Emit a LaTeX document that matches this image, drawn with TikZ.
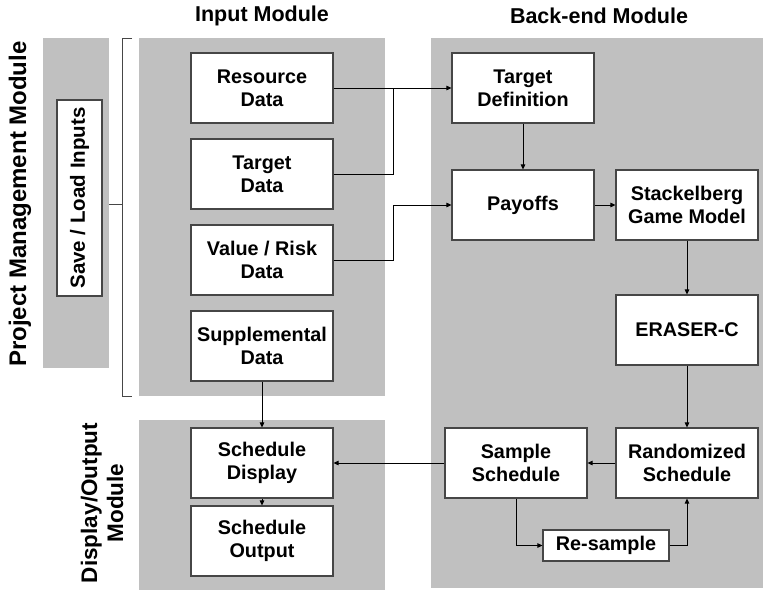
\documentclass[tikz,border=0pt]{standalone}
\usepackage{fontspec}
\setmainfont{Liberation Sans}
\usetikzlibrary{arrows.meta}
\definecolor{panelgray}{RGB}{192,192,192}
\definecolor{boxline}{RGB}{70,70,70}
\begin{document}
\begin{tikzpicture}[x=1pt,y=-1pt,
  panel/.style={fill=panelgray,draw=none,anchor=north west,inner sep=0pt},
  blk/.style={draw=boxline,line width=1.1pt,fill=white,minimum width=142pt,minimum height=70pt,inner sep=0pt,align=center,font=\fontsize{19.8}{23}\selectfont\bfseries},
  title/.style={font=\fontsize{21.5}{25}\selectfont\bfseries,inner sep=0pt},
  modlabel/.style={font=\fontsize{22.5}{26}\selectfont\bfseries,inner sep=0pt,align=center,rotate=90},
  conn/.style={draw=black,line width=0.8pt,-{Triangle[length=5pt,width=4.5pt]}},
  plain/.style={draw=black,line width=0.8pt},
  brk/.style={draw=boxline,line width=0.9pt}]
\useasboundingbox (0,0) rectangle (763,590);
% panels
\node[panel,minimum width=66pt,minimum height=330pt] (pm) at (43,38) {};
\node[panel,minimum width=246pt,minimum height=358pt] (inp) at (139,38) {};
\node[panel,minimum width=246pt,minimum height=170pt] (disp) at (139,420) {};
\node[panel,minimum width=332pt,minimum height=550pt] (back) at (431,38) {};
% titles
\node[title] (tin) at (262,16) {Input Module};
\node[title] (tback) at (599,16) {Back-end Module};
\node[modlabel,font=\fontsize{24}{28}\selectfont\bfseries] (pml) at (20,204) {Project Management Module};
\node[modlabel] (dol) at (102,503) {Display/Output\\Module};
% bracket
\coordinate (b1) at (132,38);
\coordinate (b2) at (122,38);
\coordinate (b3) at (122,396);
\coordinate (b4) at (132,396);
\coordinate (bm) at (122,204);
\draw[brk] (b1) -- (b2) -- (b3) -- (b4);
\draw[brk] (pm.east |- bm) -- (bm);
% boxes
\node[blk,minimum width=196pt,minimum height=45pt,rotate=90,font=\fontsize{20.5}{24}\selectfont\bfseries] (save) at (79.5,198) {Save / Load Inputs};
\node[blk] (res) at (262,88) {Resource\\Data};
\node[blk] (tgt) at (262,174) {Target\\Data};
\node[blk] (val) at (262,260) {Value / Risk\\Data};
\node[blk] (sup) at (262,346) {Supplemental\\Data};
\node[blk] (sdisp) at (262,463) {Schedule\\Display};
\node[blk] (sout) at (262,541) {Schedule\\Output};
\node[blk] (tdef) at (523,88) {Target\\Definition};
\node[blk] (pay) at (523,205) {Payoffs};
\node[blk] (stack) at (687,205) {Stackelberg\\Game Model};
\node[blk] (eraser) at (687,330) {ERASER-C};
\node[blk] (rand) at (687,463) {Randomized\\Schedule};
\node[blk] (samp) at (516,463) {Sample\\Schedule};
\node[blk,minimum width=126pt,minimum height=31pt] (resamp) at (606,545.5) {Re-sample};
% connectors
\coordinate (jx) at (393,0);
\draw[conn] (res.east) -- (tdef.west);
\draw[plain] (tgt.east) -| (jx |- res.east);
\draw[conn] (val.east) -- (val.east -| jx) |- (pay.west);
\draw[conn] (tdef) -- (pay);
\draw[conn] (pay) -- (stack);
\draw[conn] (stack) -- (eraser);
\draw[conn] (eraser) -- (rand);
\draw[conn] (rand) -- (samp);
\draw[conn] (samp) -- (sdisp);
\draw[conn] (samp.south) |- (resamp.west);
\draw[conn] (resamp.east) -| (rand.south);
\draw[conn] (sup) -- (sdisp);
\draw[conn] (sdisp) -- (sout);
\end{tikzpicture}
\end{document}
